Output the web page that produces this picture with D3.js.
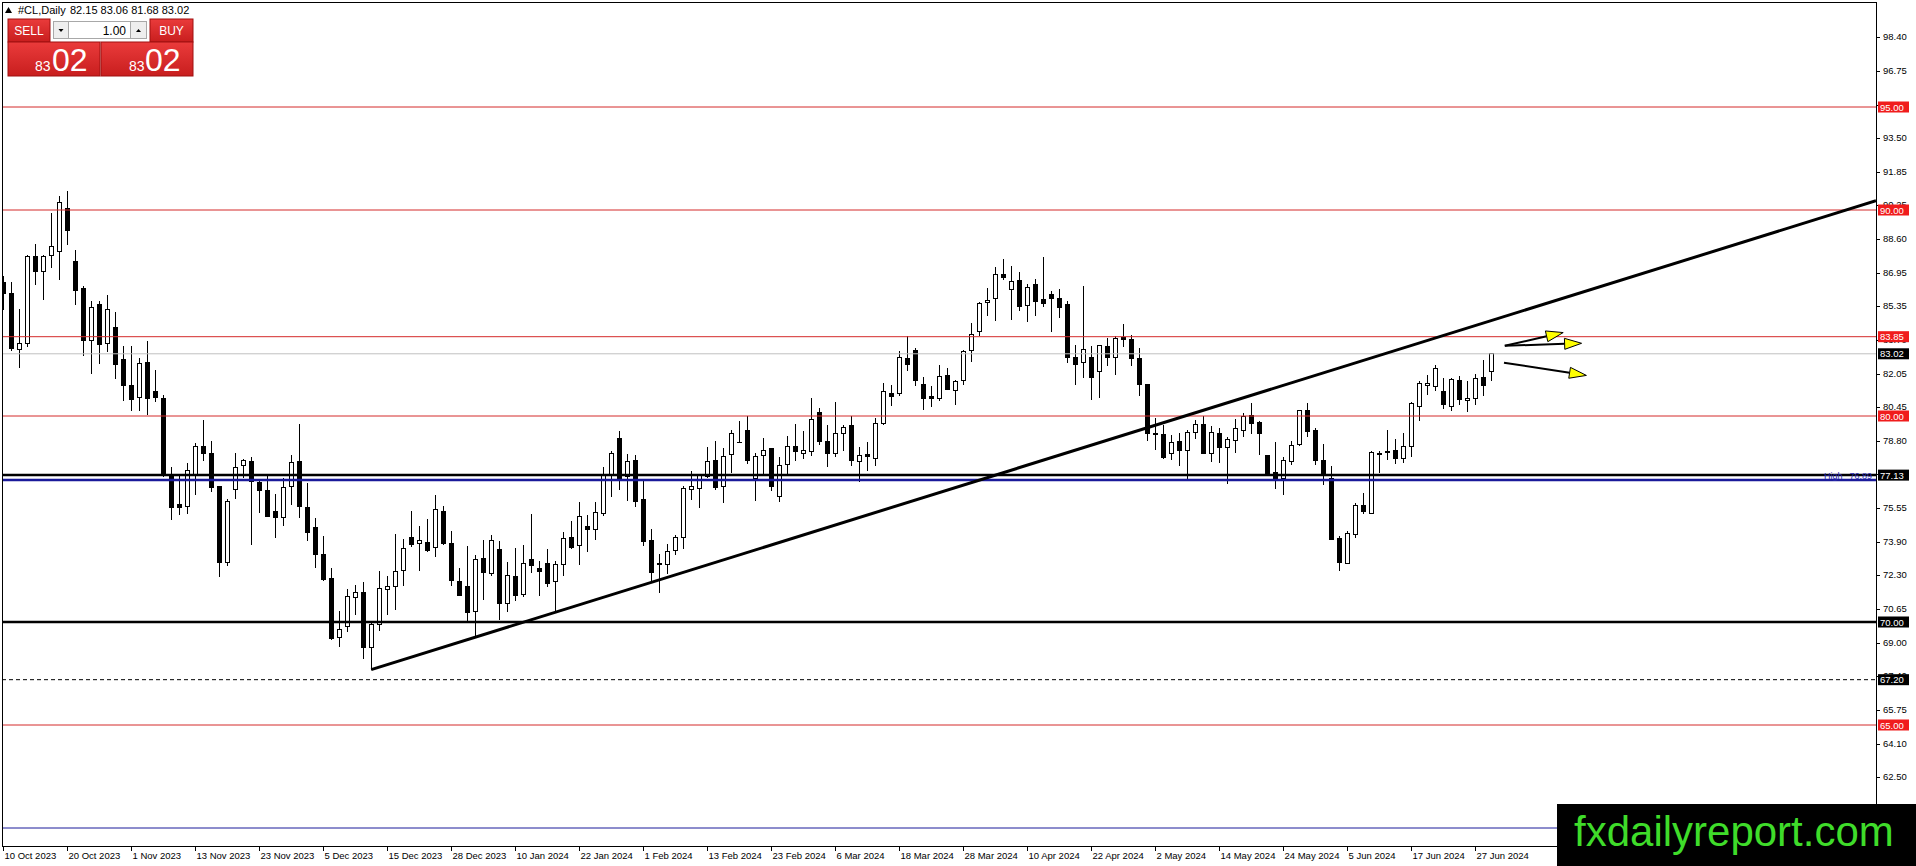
<!DOCTYPE html>
<html>
<head>
<meta charset="utf-8">
<script src="https://cdn.jsdelivr.net/npm/d3@7"></script>
<style>
  body { margin: 0; background: #fff; overflow: hidden; }
  text { font-family: "Liberation Sans", Arial, sans-serif; }
</style>
</head>
<body>
<div id="chart"></div>
<script>
// daily bars, 10 Oct 2023 .. 1 Jul 2024
const opens = [86.46,85.97,83.22,83.54,87.75,87.02,87.80,87.99,90.06,87.48,86.18,83.66,85.40,83.54,84.32,82.73,81.47,80.91,82.62,81.17,
  80.87,77.10,75.70,75.61,77.15,78.53,78.20,76.57,72.90,76.42,77.61,77.77,76.75,76.38,75.34,75.05,76.59,77.77,75.58,74.61,
  73.30,72.09,69.27,69.76,71.17,71.41,68.74,69.87,71.60,71.70,72.51,74.08,73.82,73.88,73.64,75.34,73.80,71.97,71.70,70.52,
  73.07,72.35,73.51,70.92,72.20,71.33,73.03,72.62,72.83,71.97,72.78,74.08,73.72,74.64,74.51,75.29,77.15,78.93,77.04,77.86,
  75.97,73.95,72.83,72.78,73.48,74.08,76.42,76.47,77.04,77.83,76.59,78.12,78.69,79.30,76.99,78.09,78.40,76.10,77.64,78.50,
  78.19,78.28,80.15,78.74,78.16,79.13,79.53,77.77,78.11,77.96,79.66,81.07,81.08,82.78,83.17,81.55,80.94,80.84,81.97,81.26,
  81.72,83.17,84.08,85.49,85.68,86.89,86.12,86.60,85.34,86.38,85.65,85.92,85.68,85.39,82.82,82.62,82.86,82.14,83.35,82.82,
  83.79,83.71,82.78,81.52,79.17,79.09,78.16,78.74,78.33,79.22,79.61,78.20,79.17,78.45,78.82,79.30,80.03,79.69,78.09,77.28,
  76.99,77.77,78.64,80.28,79.29,77.86,76.99,74.03,72.86,74.27,75.66,75.29,78.12,78.28,78.33,77.96,78.50,80.44,81.49,81.44,
  81.17,80.47,81.72,80.74,80.87,81.89,82.15];
const highs = [86.78,86.50,85.21,87.83,88.35,87.83,89.87,90.70,90.91,88.07,86.29,85.60,85.57,85.89,85.03,83.41,83.41,82.82,83.62,82.25,
  81.04,77.52,77.15,77.72,78.69,79.82,78.80,76.62,75.99,78.20,77.93,77.99,76.83,77.15,76.23,76.99,78.12,79.63,76.75,75.05,
  74.16,72.62,70.52,71.60,71.81,71.94,69.95,72.46,72.22,74.27,74.03,75.40,74.64,75.02,76.18,75.61,74.40,72.62,73.67,73.27,
  74.00,74.24,73.92,72.91,73.59,73.75,75.24,72.98,73.54,72.98,74.37,74.89,75.83,75.21,75.83,77.51,78.28,79.29,78.16,78.12,
  76.91,74.51,73.32,73.79,74.24,76.59,77.31,77.15,78.50,78.80,78.45,79.30,79.74,79.98,78.20,78.93,78.42,77.99,79.01,79.63,
  79.26,80.87,80.39,79.55,80.68,79.55,79.98,78.50,78.72,79.90,81.59,81.52,83.14,83.87,83.30,81.89,81.44,82.49,82.33,81.76,
  83.22,84.51,85.53,86.21,87.22,87.64,87.27,86.97,86.41,86.67,87.70,86.05,86.17,85.57,83.46,86.29,83.38,83.46,83.79,83.87,
  84.47,83.95,83.30,81.55,79.90,79.58,79.06,79.17,79.30,79.82,79.98,79.53,79.42,78.98,79.85,80.15,80.63,79.77,78.12,78.72,
  77.99,78.77,80.31,80.63,79.42,78.64,77.56,74.16,74.40,75.78,76.26,78.32,78.28,79.34,78.90,79.17,80.68,81.68,81.97,82.49,
  81.84,81.84,81.93,81.68,82.06,82.73,83.06];
const lows = [85.16,83.14,82.33,83.35,86.34,85.61,87.18,86.62,88.32,85.37,82.93,82.06,82.54,83.09,81.81,80.71,80.26,80.23,80.06,80.68,
  77.04,74.94,75.21,75.26,76.18,77.80,76.31,72.17,72.70,75.99,76.99,73.75,75.29,75.08,74.08,74.64,75.66,75.05,73.92,72.62,
  72.01,69.11,68.77,69.50,70.36,68.20,67.69,69.55,70.32,70.60,71.73,73.62,72.46,73.40,73.14,73.75,71.73,71.25,70.03,69.30,
  71.05,72.22,70.11,70.47,71.04,71.20,72.38,71.25,71.70,70.52,72.22,73.56,72.78,73.38,73.96,75.13,76.07,76.39,75.86,75.57,
  73.71,71.89,71.41,72.33,73.27,73.56,75.94,75.53,76.99,76.42,75.78,77.23,78.67,77.69,75.86,77.15,76.38,75.83,77.15,77.80,
  77.93,78.04,78.58,77.51,77.99,78.28,77.56,76.80,77.31,77.56,79.58,80.47,80.99,82.20,81.44,80.31,80.42,80.71,81.25,80.55,
  81.49,82.62,83.90,84.84,84.63,86.62,84.68,85.08,84.55,84.84,85.28,84.06,84.76,82.57,81.52,81.84,80.79,80.87,82.41,81.97,
  83.33,82.41,80.95,78.80,78.37,77.93,77.88,77.56,76.96,78.90,78.16,77.75,77.72,76.70,78.20,78.96,79.13,78.09,77.12,76.46,
  76.18,77.64,78.53,78.96,77.64,76.67,73.96,72.46,72.82,74.08,75.24,75.24,77.23,77.88,77.67,77.72,77.99,79.74,81.00,81.23,
  80.34,80.23,80.52,80.18,80.52,80.95,81.68];
const closes = [85.97,83.30,83.50,87.75,87.02,87.75,88.22,90.34,89.01,86.08,83.67,85.29,83.46,85.15,82.49,81.49,80.79,82.57,80.87,80.91,
  77.15,75.57,75.57,77.36,78.53,78.20,76.55,72.90,75.83,77.51,77.82,76.80,76.39,75.13,75.05,76.54,77.72,75.61,74.35,73.30,
  72.06,69.19,69.66,71.25,71.41,68.74,69.87,71.65,71.73,72.46,73.59,73.75,73.95,73.48,75.44,73.80,72.02,71.29,70.47,73.03,
  72.38,73.95,70.92,72.25,71.29,72.86,72.75,72.46,71.89,72.81,74.03,73.62,75.13,74.51,75.32,77.10,78.20,76.96,77.77,75.83,
  73.92,72.38,72.77,73.43,74.08,76.47,76.59,77.10,77.77,76.55,78.04,79.17,78.72,77.83,78.04,78.33,76.59,77.61,78.53,78.28,
  78.32,79.81,78.77,78.16,79.13,79.45,77.85,78.09,78.04,79.66,81.17,80.95,82.82,82.52,81.73,80.83,80.84,81.93,81.31,81.68,
  83.11,83.98,85.44,85.61,86.86,86.73,86.54,85.32,86.26,85.57,85.44,85.68,85.29,82.85,82.52,83.25,81.89,83.41,82.82,83.75,
  83.69,82.77,81.55,79.13,79.08,77.99,78.69,78.33,79.22,79.58,78.20,79.22,78.45,78.88,79.37,79.98,79.66,79.13,77.15,76.99,
  77.83,78.58,80.28,79.26,77.85,77.15,74.00,72.90,74.32,75.65,75.37,78.25,78.19,78.24,77.96,78.50,80.60,81.57,81.60,82.33,
  80.58,81.76,80.79,80.87,81.80,81.49,83.02];

const dateLabels = ["10 Oct 2023","20 Oct 2023","1 Nov 2023","13 Nov 2023","23 Nov 2023","5 Dec 2023","15 Dec 2023",
  "28 Dec 2023","10 Jan 2024","22 Jan 2024","1 Feb 2024","13 Feb 2024","23 Feb 2024","6 Mar 2024","18 Mar 2024",
  "28 Mar 2024","10 Apr 2024","22 Apr 2024","2 May 2024","14 May 2024","24 May 2024","5 Jun 2024","17 Jun 2024","27 Jun 2024"];
const dateBars = [0,8,16,24,32,40,48,56,64,72,80,88,96,104,112,120,128,136,144,152,160,168,176,184];

const priceTicks = [98.40,96.75,95.10,93.50,91.85,90.25,88.60,86.95,85.35,83.70,82.05,80.45,78.80,77.20,75.55,73.90,
  72.30,70.65,69.00,67.40,65.75,64.10,62.50,60.85];

const redLevels = [95.00, 90.00, 83.85, 80.00, 65.00];
const blackLevels = [77.13, 70.00];
const dashedLevels = [67.20];
const blueLevels = [76.89, 60.00];
const bidPrice = 83.02;

const trendBars = [46, 186];
const trendPrices = [67.69, 84.63];

const arrowFrom = [[187.7, 83.41], [187.7, 83.41], [187.6, 82.59]];
const arrowTo = [[195.0, 84.05], [197.3, 83.53], [197.9, 81.97]];

const W = 1916, H = 866;
const plotLeft = 2, plotTop = 2, plotRight = 1876, plotBottom = 846;

const svg = d3.select('#chart').append('svg')
  .attr('width', W).attr('height', H)
  .style('display', 'block');

const x = d3.scaleLinear().domain([-0.4, 234.1]).range([0, plotRight]);
const y = d3.scaleLinear().domain([60, 100]).range([828, 4]);

const defs = svg.append('defs');
defs.append('clipPath').attr('id', 'plot')
  .append('rect').attr('x', plotLeft).attr('y', plotTop)
  .attr('width', plotRight - plotLeft).attr('height', plotBottom - plotTop);

const plot = svg.append('g').attr('clip-path', 'url(#plot)');

// candles
const bars = d3.range(opens.length);
const cg = plot.append('g').attr('shape-rendering', 'crispEdges');
cg.selectAll('line').data(bars).enter().append('line')
  .attr('x1', i => Math.round(x(i)) + 0.5).attr('x2', i => Math.round(x(i)) + 0.5)
  .attr('y1', i => y(highs[i])).attr('y2', i => y(lows[i]))
  .attr('stroke', '#000').attr('stroke-width', 1);
cg.selectAll('rect').data(bars).enter().append('rect')
  .attr('x', i => Math.round(x(i)) - 1.5)
  .attr('width', 4)
  .attr('y', i => y(Math.max(opens[i], closes[i])))
  .attr('height', i => Math.max(0.6, Math.abs(y(opens[i]) - y(closes[i]))))
  .attr('fill', i => closes[i] >= opens[i] ? '#fff' : '#000')
  .attr('stroke', '#000').attr('stroke-width', 1);

// horizontal levels
const hline = (v, color, w, dash) => plot.append('line')
  .attr('x1', plotLeft).attr('x2', plotRight)
  .attr('y1', y(v)).attr('y2', y(v))
  .attr('stroke', color).attr('stroke-width', w)
  .attr('stroke-dasharray', dash || null);

hline(bidPrice, '#c0c0c0', 1);
redLevels.forEach(v => hline(v, '#d42a2a', 1));
hline(blueLevels[1], '#1a1a9a', 1);
hline(blueLevels[0], '#1a1a9a', 2.5);
blackLevels.forEach(v => hline(v, '#000', 2.5));
dashedLevels.forEach(v => hline(v, '#000', 1, '4,3'));

plot.append('text').attr('x', 1824).attr('y', y(blueLevels[0]) - 1.5)
  .attr('font-size', 9).attr('fill', '#2a2ab0').text('High');
plot.append('text').attr('x', 1872).attr('y', y(blueLevels[0]) - 1.5)
  .attr('font-size', 9).attr('fill', '#2a2ab0').attr('text-anchor', 'end').text('76.89');

// trend line, extended to the right edge
const slope = (trendPrices[1] - trendPrices[0]) / (trendBars[1] - trendBars[0]);
const endBar = x.domain()[1];
plot.append('line')
  .attr('x1', x(trendBars[0])).attr('y1', y(trendPrices[0]))
  .attr('x2', x(endBar)).attr('y2', y(trendPrices[0] + slope * (endBar - trendBars[0])))
  .attr('stroke', '#000').attr('stroke-width', 3);

// arrows
arrowFrom.forEach((a, k) => {
  const b = arrowTo[k];
  const x0 = x(a[0]), y0 = y(a[1]), x1 = x(b[0]), y1 = y(b[1]);
  const len = Math.hypot(x1 - x0, y1 - y0);
  const ux = (x1 - x0) / len, uy = (y1 - y0) / len;
  const hl = 17, hw = 5.5;
  const bx = x1 - ux * hl, by = y1 - uy * hl;
  plot.append('line').attr('x1', x0).attr('y1', y0).attr('x2', bx).attr('y2', by)
    .attr('stroke', '#000').attr('stroke-width', 2);
  plot.append('polygon')
    .attr('points', [[x1, y1], [bx - uy * hw, by + ux * hw], [bx + uy * hw, by - ux * hw]].map(p => p.join(',')).join(' '))
    .attr('fill', '#ffff00').attr('stroke', '#000').attr('stroke-width', 1);
});

// frame
svg.append('rect').attr('x', plotLeft + 0.5).attr('y', plotTop + 0.5)
  .attr('width', plotRight - plotLeft).attr('height', plotBottom - plotTop)
  .attr('fill', 'none').attr('stroke', '#000').attr('stroke-width', 1)
  .attr('shape-rendering', 'crispEdges');

// price axis
const pa = svg.append('g');
priceTicks.forEach(v => {
  pa.append('line').attr('x1', plotRight).attr('x2', plotRight + 4)
    .attr('y1', Math.round(y(v)) + 0.5).attr('y2', Math.round(y(v)) + 0.5)
    .attr('stroke', '#000').attr('shape-rendering', 'crispEdges');
  pa.append('text').attr('x', plotRight + 7).attr('y', y(v) + 3.5)
    .attr('font-size', 9.5).attr('fill', '#000').text(v.toFixed(2));
});

const tag = (v, bg) => {
  pa.append('rect').attr('x', plotRight + 2).attr('y', y(v) - 5.5)
    .attr('width', 31).attr('height', 11).attr('fill', bg);
  pa.append('text').attr('x', plotRight + 4).attr('y', y(v) + 3.5)
    .attr('font-size', 9.5).attr('fill', '#fff').text(v.toFixed(2));
};
redLevels.forEach(v => tag(v, '#f01c1c'));
blackLevels.forEach(v => tag(v, '#000'));
dashedLevels.forEach(v => tag(v, '#000'));
tag(bidPrice, '#000');

// date axis
const da = svg.append('g');
dateBars.forEach((b, k) => {
  const px = Math.round(x(b)) + 0.5;
  da.append('line').attr('x1', px).attr('x2', px).attr('y1', plotBottom).attr('y2', plotBottom + 5)
    .attr('stroke', '#000').attr('shape-rendering', 'crispEdges');
  da.append('text').attr('x', px + 1).attr('y', plotBottom + 13)
    .attr('font-size', 9.5).attr('fill', '#000').text(dateLabels[k]);
});

// header
svg.append('polygon').attr('points', '5,13 8.5,7 12,13').attr('fill', '#000');
svg.append('text').attr('x', 18).attr('y', 14).attr('font-size', 11).attr('fill', '#000')
  .text('#CL,Daily');
svg.append('text').attr('x', 70).attr('y', 14).attr('font-size', 11).attr('fill', '#000')
  .text('82.15 83.06 81.68 83.02');

// one-click trading panel
const grad = defs.append('linearGradient').attr('id', 'red').attr('x1', 0).attr('y1', 0).attr('x2', 0).attr('y2', 1);
grad.append('stop').attr('offset', '0%').attr('stop-color', '#ea3b3b');
grad.append('stop').attr('offset', '100%').attr('stop-color', '#c81e1e');

const panel = svg.append('g');
panel.append('rect').attr('x', 8).attr('y', 19).attr('width', 42).attr('height', 23)
  .attr('fill', 'url(#red)').attr('stroke', '#a01010');
panel.append('text').attr('x', 29).attr('y', 35).attr('text-anchor', 'middle')
  .attr('font-size', 12).attr('fill', '#fff').text('SELL');
panel.append('rect').attr('x', 150).attr('y', 19).attr('width', 43).attr('height', 23)
  .attr('fill', 'url(#red)').attr('stroke', '#a01010');
panel.append('text').attr('x', 171.5).attr('y', 35).attr('text-anchor', 'middle')
  .attr('font-size', 12).attr('fill', '#fff').text('BUY');

panel.append('rect').attr('x', 53.5).attr('y', 21.5).attr('width', 15).attr('height', 17)
  .attr('fill', '#eeeeee').attr('stroke', '#a8a8a8');
panel.append('polygon').attr('points', '58.5,29 63.5,29 61,32').attr('fill', '#000');
panel.append('rect').attr('x', 68.5).attr('y', 21.5).attr('width', 62).attr('height', 17)
  .attr('fill', '#fff').attr('stroke', '#a8a8a8');
panel.append('text').attr('x', 126).attr('y', 35).attr('text-anchor', 'end')
  .attr('font-size', 12).attr('fill', '#000').text('1.00');
panel.append('rect').attr('x', 130.5).attr('y', 21.5).attr('width', 16).attr('height', 17)
  .attr('fill', '#eeeeee').attr('stroke', '#a8a8a8');
panel.append('polygon').attr('points', '136,32 141,32 138.5,29').attr('fill', '#000');

[[8, 35, 52], [101, 129, 145]].forEach(p => {
  panel.append('rect').attr('x', p[0]).attr('y', 42).attr('width', 92).attr('height', 34)
    .attr('fill', 'url(#red)').attr('stroke', '#a01010');
  panel.append('text').attr('x', p[1]).attr('y', 71).attr('font-size', 14).attr('fill', '#fff').text('83');
  panel.append('text').attr('x', p[2]).attr('y', 71).attr('font-size', 32).attr('fill', '#fff').text('02');
});

// watermark
svg.append('rect').attr('x', 1557).attr('y', 804).attr('width', W - 1557).attr('height', H - 804).attr('fill', '#000');
svg.append('text').attr('x', 1574).attr('y', 846).attr('font-size', 42).attr('fill', '#3fdc2a')
  .text('fxdailyreport.com');
</script>
</body>
</html>
